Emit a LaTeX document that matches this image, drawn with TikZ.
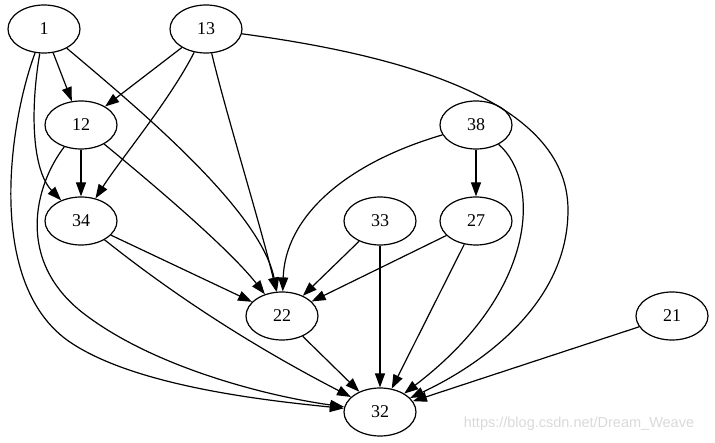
\documentclass[tikz,border=0pt]{standalone}
\usepackage{fontspec}
\setmainfont{Liberation Serif}
\newfontfamily\wmfont{Liberation Sans}
\usetikzlibrary{arrows.meta,shapes.geometric}

\begin{document}
\begin{tikzpicture}[x=1pt, y=-1pt, line width=1.2pt,
  >={Triangle[length=14pt,width=10pt]},
  vertex/.style={draw, ellipse, minimum width=72pt, minimum height=48pt,
    inner sep=0pt, font=\fontsize{18}{20}\selectfont}]
  \useasboundingbox (0,0) rectangle (715,443);
  \node[vertex] (n1) at (44,29) {1};
  \node[vertex] (n13) at (206,29) {13};
  \node[vertex] (n12) at (81,125) {12};
  \node[vertex] (n38) at (476,125) {38};
  \node[vertex] (n34) at (81,221) {34};
  \node[vertex] (n33) at (380,221) {33};
  \node[vertex] (n27) at (476,221) {27};
  \node[vertex] (n22) at (282,316) {22};
  \node[vertex] (n21) at (672,316) {21};
  \node[vertex] (n32) at (380,412) {32};
  \node[font=\wmfont\fontsize{14.5}{17}\selectfont, text=black!15] (wm) at (579,424) {https://blog.csdn.net/Dream\_Weave};
  % edges
  \draw[->] (n1) -- (n12);
  \draw[->] (n1) .. controls (30,110) and (32,170) .. (n34);
  \draw[->] (n1) .. controls (140,110) and (260,210) .. (n22);
  \draw[->] (n1) .. controls (10,120) and (-15,280) .. (67,340)
    .. controls (130,385) and (260,400) .. (n32);
  \draw[->] (n13) -- (n12);
  \draw[->] (n13) .. controls (170,100) and (120,160) .. (n34);
  \draw[->] (n13) .. controls (225,110) and (262,230) .. (n22);
  \draw[->] (n13) .. controls (400,55) and (568,100) .. (568,210)
    .. controls (568,310) and (470,370) .. (n32);
  \draw[->] (n12) -- (n34);
  \draw[->] (n12) .. controls (160,190) and (230,250) .. (n22);
  \draw[->] (n12) .. controls (35,185) and (15,260) .. (83,313)
    .. controls (150,365) and (260,395) .. (n32);
  \draw[->] (n34) -- (n22);
  \draw[->] (n34) .. controls (180,300) and (260,350) .. (n32);
  \draw[->] (n38) -- (n27);
  \draw[->] (n38) .. controls (340,165) and (285,220) .. (n22);
  \draw[->] (n38) .. controls (540,180) and (540,290) .. (n32);
  \draw[->] (n33) -- (n22);
  \draw[->] (n33) -- (n32);
  \draw[->] (n27) -- (n22);
  \draw[->] (n27) -- (n32);
  \draw[->] (n22) -- (n32);
  \draw[->] (n21) -- (n32);
\end{tikzpicture}
\end{document}
